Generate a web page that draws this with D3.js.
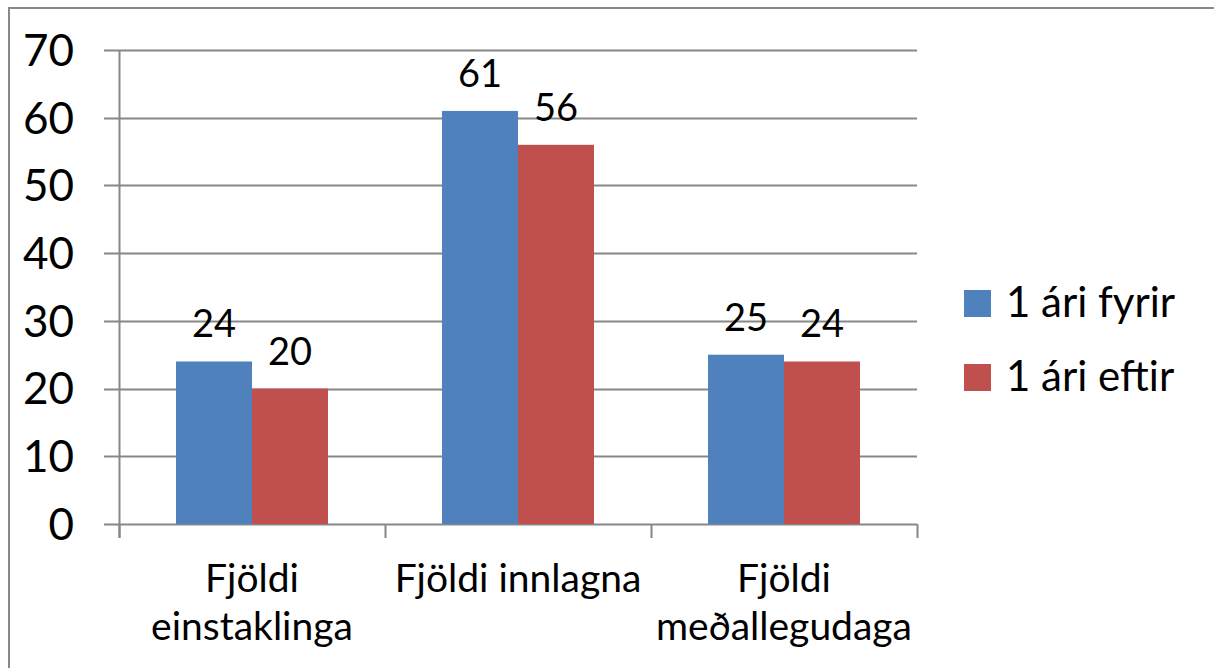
<!DOCTYPE html>
<meta charset="utf-8">
<style>
    body { margin: 0; background: #fff; }
    svg text { font-family: Lato, "Open Sans", sans-serif; fill: #000; }
</style>
<div id="chart"></div>
<script src="https://d3js.org/d3.v7.min.js"></script>
<script>

    // data
    var categories = [["Fjöldi", "einstaklinga"], ["Fjöldi innlagna"], ["Fjöldi", "meðallegudaga"]];
    var seriesNames = ["1 ári fyrir", "1 ári eftir"];
    var before = [24, 61, 25];
    var after = [20, 56, 24];
    var yTicks = [0, 10, 20, 30, 40, 50, 60, 70];
    var colors = ["#4F81BD", "#C0504D"];

    var W = 1214, H = 668;
    var plot = { left: 119, right: 917, top: 50, bottom: 524 };

    var svg = d3.select("#chart")
        .append("svg")
        .attr("width", W)
        .attr("height", H);

    // outer chart border (clipped at the right and bottom like the picture)
    svg.append("path")
        .attr("d", "M9,668 V8 H1214")
        .attr("fill", "none")
        .attr("stroke", "#888")
        .attr("stroke-width", 2);

    var y = d3.scaleLinear()
        .domain([0, 70])
        .range([plot.bottom, plot.top]);

    var x0 = d3.scaleBand()
        .domain(d3.range(categories.length))
        .range([plot.left, plot.right])
        .paddingInner(0)
        .paddingOuter(0);

    // gap between groups is 1.5 bar widths: 2 bars + 1.5 gap
    var groupW = x0.bandwidth() * 2 / 3.5;
    var x1 = d3.scaleBand()
        .domain([0, 1])
        .range([0, groupW]);

    // gridlines
    svg.append("g")
        .selectAll("line")
        .data(yTicks)
        .enter()
        .append("line")
        .attr("x1", plot.left - 15)
        .attr("x2", plot.right)
        .attr("y1", function (d) { return Math.round(y(d)) + 0.5; })
        .attr("y2", function (d) { return Math.round(y(d)) + 0.5; })
        .attr("stroke", "#878787")
        .attr("stroke-width", 2);

    // y axis labels
    svg.append("g")
        .selectAll("text")
        .data(yTicks)
        .enter()
        .append("text")
        .attr("x", 74)
        .attr("y", function (d) { return y(d); })
        .attr("dy", "0.36em")
        .attr("text-anchor", "end")
        .style("font-size", "44px")
        .text(function (d) { return d; });

    // y axis line
    svg.append("line")
        .attr("x1", plot.left + 0.5).attr("x2", plot.left + 0.5)
        .attr("y1", plot.top).attr("y2", plot.bottom + 14)
        .attr("stroke", "#878787")
        .attr("stroke-width", 2);

    // category ticks
    svg.append("g")
        .selectAll("line")
        .data(d3.range(categories.length + 1))
        .enter()
        .append("line")
        .attr("x1", function (i) { return Math.round(plot.left + i * x0.bandwidth()) + 0.5; })
        .attr("x2", function (i) { return Math.round(plot.left + i * x0.bandwidth()) + 0.5; })
        .attr("y1", plot.bottom)
        .attr("y2", plot.bottom + 14)
        .attr("stroke", "#878787")
        .attr("stroke-width", 2);

    var rows = [];
    categories.forEach(function (c, i) {
        rows.push({ cat: i, s: 0, v: before[i] });
        rows.push({ cat: i, s: 1, v: after[i] });
    });

    function barX(d) {
        return x0(d.cat) + (x0.bandwidth() - groupW) / 2 + x1(d.s);
    }

    // bars
    svg.append("g")
        .selectAll("rect")
        .data(rows)
        .enter()
        .append("rect")
        .attr("x", barX)
        .attr("width", x1.bandwidth())
        .attr("y", function (d) { return y(d.v); })
        .attr("height", function (d) { return y(0) - y(d.v); })
        .attr("fill", function (d) { return colors[d.s]; });

    // value labels
    svg.append("g")
        .selectAll("text")
        .data(rows)
        .enter()
        .append("text")
        .attr("x", function (d) { return barX(d) + x1.bandwidth() / 2; })
        .attr("y", function (d) { return y(d.v) - 24; })
        .attr("text-anchor", "middle")
        .style("font-size", "38px")
        .text(function (d) { return d.v; });

    // category labels
    var catG = svg.append("g")
        .selectAll("text")
        .data(categories)
        .enter()
        .append("text")
        .attr("x", function (d, i) { return x0(i) + x0.bandwidth() / 2; })
        .attr("y", 592)
        .attr("text-anchor", "middle")
        .style("font-size", "39px");
    catG.selectAll("tspan")
        .data(function (d) { return d; })
        .enter()
        .append("tspan")
        .attr("x", function () { return d3.select(this.parentNode).attr("x"); })
        .attr("dy", function (d, i) { return i === 0 ? 0 : 48; })
        .text(function (d) { return d; });

    // legend
    var legend = svg.append("g")
        .selectAll("g")
        .data(seriesNames)
        .enter()
        .append("g")
        .attr("transform", function (d, i) { return "translate(964," + (290 + i * 74) + ")"; });
    legend.append("rect")
        .attr("width", 27)
        .attr("height", 27)
        .attr("fill", function (d, i) { return colors[i]; });
    legend.append("text")
        .attr("x", 42)
        .attr("y", 27)
        .style("font-size", "42px")
        .text(function (d) { return d; });

</script>
